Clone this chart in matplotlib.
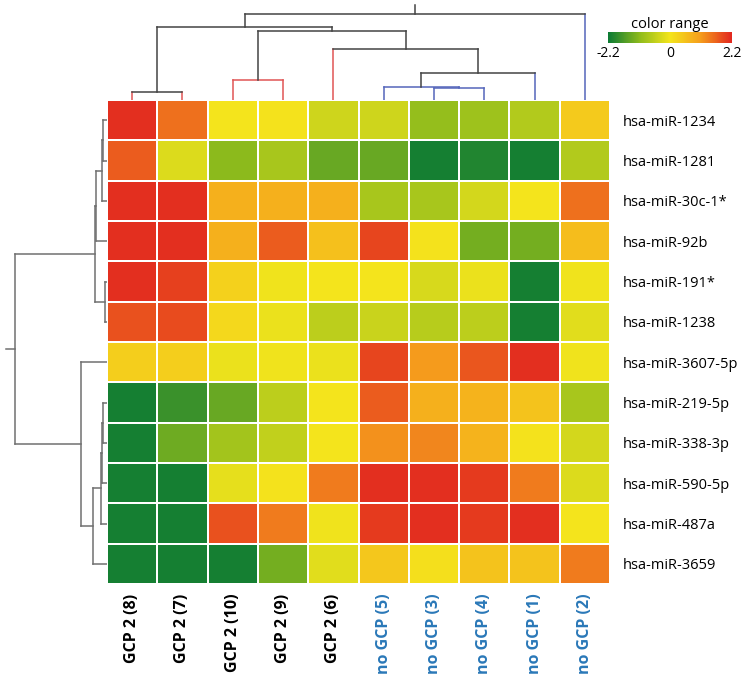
import matplotlib
matplotlib.use("Agg")
import matplotlib.pyplot as plt
import numpy as np
from matplotlib.colors import LinearSegmentedColormap, Normalize
from matplotlib.cm import ScalarMappable

plt.rcParams['font.family'] = ['Open Sans', 'DejaVu Sans']

# columns (samples) in dendrogram order
samples = ['GCP 2 (8)', 'GCP 2 (7)', 'GCP 2 (10)', 'GCP 2 (9)', 'GCP 2 (6)',
           'no GCP (5)', 'no GCP (3)', 'no GCP (4)', 'no GCP (1)', 'no GCP (2)']
sample_colors = ['black'] * 5 + ['#2a78b8'] * 5

# rows (miRNAs) in dendrogram order
mirnas = ['hsa-miR-1234', 'hsa-miR-1281', 'hsa-miR-30c-1*', 'hsa-miR-92b',
          'hsa-miR-191*', 'hsa-miR-1238', 'hsa-miR-3607-5p', 'hsa-miR-219-5p',
          'hsa-miR-338-3p', 'hsa-miR-590-5p', 'hsa-miR-487a', 'hsa-miR-3659']

# scaled expression
values = np.array([
    [2.1, 1.5, 0.0, 0.05, -0.4, -0.4, -1.0, -0.9, -0.7, 0.4],
    [1.7, -0.25, -1.1, -0.8, -1.4, -1.4, -2.1, -2.0, -2.1, -0.7],
    [2.1, 2.1, 0.8, 0.8, 0.8, -0.8, -0.8, -0.35, 0.0, 1.5],
    [2.1, 2.1, 0.8, 1.7, 0.55, 1.9, 0.05, -1.3, -1.3, 0.6],
    [2.1, 1.95, 0.3, -0.05, 0.0, 0.0, -0.3, -0.1, -2.1, -0.05],
    [1.8, 1.85, 0.2, -0.1, -0.6, -0.45, -0.65, -0.6, -2.1, -0.2],
    [0.35, 0.35, -0.1, -0.05, -0.1, 1.9, 1.1, 1.75, 2.1, -0.05],
    [-2.1, -1.8, -1.4, -0.6, 0.0, 1.7, 0.8, 0.75, 0.5, -0.8],
    [-2.1, -1.35, -0.85, -0.55, 0.0, 1.2, 1.3, 0.75, 0.05, -0.35],
    [-2.1, -2.1, -0.15, 0.05, 1.4, 2.1, 2.1, 2.0, 1.4, -0.25],
    [-2.1, -2.1, 1.8, 1.4, -0.05, 2.0, 2.1, 2.0, 2.1, 0.0],
    [-2.1, -2.1, -2.1, -1.3, -0.2, 0.45, 0.1, 0.5, 0.5, 1.4],
])

# dendrograms: (child a, child b, height); ids >= n are earlier merges
col_merges = [(0, 1, 8), (2, 3, 20), (6, 7, 11.7), (5, 12, 12.7), (13, 8, 27.3),
              (4, 14, 51), (11, 15, 69.3), (10, 16, 72.7), (17, 9, 86)]
col_merge_colors = ['#444444', '#e05555', '#5566bb', '#5566bb', '#444444',
                    '#444444', '#444444', '#444444', '#444444']
col_leaf_colors = ['#e05555'] * 5 + ['#5566bb'] * 5

row_merges = [(0, 1, 3.7), (12, 2, 5.3), (13, 3, 11), (4, 5, 2), (14, 15, 12),
              (7, 8, 4), (17, 9, 5.3), (18, 10, 6.3), (19, 11, 13.7),
              (6, 20, 26.3), (16, 21, 92)]

vmin, vmax = -2.2, 2.2
cmap = LinearSegmentedColormap.from_list(
    'gyr', [(0.0, '#0b7a34'), (0.25, '#8cba1c'), (0.5, '#f4e51c'),
            (0.75, '#f59c1c'), (1.0, '#e2261f')])


def draw_dendro(ax, merges, n, orient, merge_colors, leaf_colors, stub):
    # walk the merges and draw each U-shaped link
    pos = {i: i + 0.5 for i in range(n)}
    hgt = {i: 0.0 for i in range(n)}
    for k, (a, b, h) in enumerate(merges):
        node = n + k
        mc = merge_colors[k]
        for c in (a, b):
            vc = leaf_colors[c] if c < n else mc
            if orient == 'top':
                ax.plot([pos[c], pos[c]], [hgt[c], h], color=vc, lw=1.1)
            else:
                ax.plot([hgt[c], h], [pos[c], pos[c]], color=vc, lw=1.1)
        if orient == 'top':
            ax.plot([pos[a], pos[b]], [h, h], color=mc, lw=1.1)
        else:
            ax.plot([h, h], [pos[a], pos[b]], color=mc, lw=1.1)
        pos[node] = (pos[a] + pos[b]) / 2
        hgt[node] = h
    root = n + len(merges) - 1
    if orient == 'top':
        ax.plot([pos[root]] * 2, [hgt[root], stub], color=merge_colors[-1], lw=1.1)
    else:
        ax.plot([hgt[root], stub], [pos[root]] * 2, color=merge_colors[-1], lw=1.1)


W, H = 745, 679
fig = plt.figure(figsize=(W / 100, H / 100), dpi=100)

hx0, hx1, hy0, hy1 = 107, 610, 100, 584
ax = fig.add_axes([hx0 / W, 1 - hy1 / H, (hx1 - hx0) / W, (hy1 - hy0) / H])
ax.pcolormesh(values, cmap=cmap, vmin=vmin, vmax=vmax,
              edgecolors='white', linewidth=1.3)
ax.set_xlim(0, len(samples))
ax.set_ylim(len(mirnas), 0)
ax.set_xticks(np.arange(len(samples)) + 0.5)
ax.set_xticklabels(samples, rotation=90, fontsize=11.5, fontweight='bold',
                   va='top')
for t, c in zip(ax.get_xticklabels(), sample_colors):
    t.set_color(c)
ax.set_yticks(np.arange(len(mirnas)) + 0.5)
ax.set_yticklabels(mirnas, fontsize=10.5)
ax.yaxis.tick_right()
ax.tick_params(length=0, pad=7)
ax.tick_params(axis='y', pad=9)
for s in ax.spines.values():
    s.set_visible(False)

# column dendrogram
axt = fig.add_axes([hx0 / W, 1 - hy0 / H, (hx1 - hx0) / W, hy0 / H])
draw_dendro(axt, col_merges, len(samples), 'top', col_merge_colors,
            col_leaf_colors, 95)
axt.set_xlim(0, len(samples))
axt.set_ylim(0, 100)
axt.axis('off')

# row dendrogram
axl = fig.add_axes([0, 1 - hy1 / H, hx0 / W, (hy1 - hy0) / H])
draw_dendro(axl, row_merges, len(mirnas), 'left', ['#707070'] * len(row_merges),
            ['#707070'] * len(mirnas), 101)
axl.set_xlim(hx0, 0)
axl.set_ylim(len(mirnas), 0)
axl.axis('off')

# colour bar
cax = fig.add_axes([608 / W, 1 - 43 / H, 124 / W, 11 / H])
cb = fig.colorbar(ScalarMappable(norm=Normalize(vmin, vmax), cmap=cmap),
                  cax=cax, orientation='horizontal', ticks=[-2.2, 0, 2.2])
cb.outline.set_visible(False)
cb.ax.set_xticklabels(['-2.2', '0', '2.2'])
cb.ax.tick_params(length=0, labelsize=10, pad=2)
cb.ax.set_title('color range', fontsize=10.5, pad=3)

fig.savefig('out.png', dpi=100)
